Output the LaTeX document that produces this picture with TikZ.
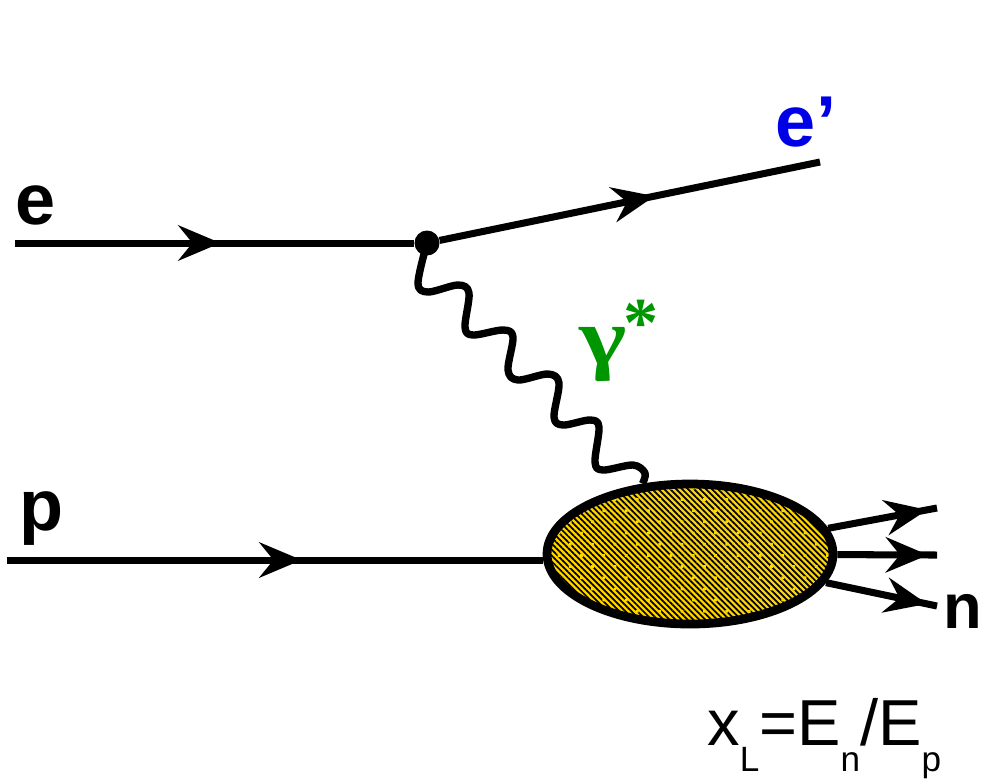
\documentclass[tikz,border=0pt]{standalone}
\usepackage{fontspec}
\setmainfont{Liberation Sans}
\newfontfamily\greekfont{Liberation Serif}
\usepackage{xcolor}
\usetikzlibrary{shapes.geometric, arrows.meta, positioning, patterns.meta, decorations.markings}
\definecolor{blobgold}{RGB}{255,214,0}
\definecolor{photongreen}{RGB}{0,150,0}
\definecolor{eblue}{RGB}{0,0,230}
\tikzset{
  fermion/.style={line width=4pt, postaction={decorate}, decoration={markings, mark=at position #1 with {\arrow{>}}}},
  photon/.style={line width=4.2pt, line join=round},
  vertex/.style={circle, fill=black, inner sep=0pt, minimum size=0.5cm},
  blob/.style={ellipse, draw, line width=5pt, inner sep=0pt, minimum width=5.72cm, minimum height=2.8cm,
    preaction={fill=blobgold},
    preaction={pattern={Lines[angle=-45, distance=2.4pt, line width=1pt]}, pattern color=black},
    pattern={Dots[angle=45, distance=9pt, radius=1.1pt]}, pattern color=blobgold},
  partlabel/.style={font=\fontsize{41}{41}\selectfont\bfseries, inner sep=0pt},
}
\begin{document}
\begin{tikzpicture}[x=0.02cm, y=-0.02cm, >={Stealth[length=24pt, width=20pt, inset=8pt]}]
  \useasboundingbox (0,0) rectangle (982,779);
  % vertices
  \node[vertex] (vtx) at (427,243) {};
  \node[blob] (blb) at (690,554) {};
  % free line ends
  \coordinate (ein) at (15,243);
  \coordinate (eout) at (820,162);
  \coordinate (pin) at (7,560);
  \coordinate (pout) at (pin -| blb.west);
  \coordinate (out1) at (937,508);
  \coordinate (out2) at (937,555);
  \coordinate (out3) at (937,606);

  \path[draw]
    (ein) edge[fermion=0.515] (vtx)
    (vtx) edge[fermion=0.565] (eout)
    (pin) edge[fermion=0.55] (pout)
    (blb) edge[fermion=0.91] (out1)
    (blb) edge[fermion=0.91] (out2)
    (blb) edge[fermion=0.91] (out3);

  % photon
  \draw[photon] plot[smooth, tension=0.55] coordinates {(vtx.center) (418,283) (428,292) (458,285) (469,293)
    (465,327) (473,335) (503,330) (513,337) (508,370) (518,380) (548,374) (559,383)
    (554,417) (563,425) (590,420) (599,427) (595,462) (603,470) (633,465) (645,473) (blb.124)};

  % labels
  \node[partlabel] (elabel) at (36,205) {e};
  \node[partlabel, text=eblue] (eplabel) at (806,122) {e’};
  \node[partlabel] (plabel) at (42,519) {p};
  \node[partlabel, anchor=east, font=\fontsize{36}{36}\selectfont\bfseries] (nlabel) at (982,611) {n};
  \node[inner sep=0pt, text=photongreen, font=\fontsize{46}{46}\selectfont\greekfont\bfseries] (gamma) at (619,341) {\scalebox{1.25}[1]{γ}\kern-2pt\raisebox{10pt}{\fontsize{40}{40}\selectfont *}};
  \node[inner sep=0pt, anchor=base west, font=\fontsize{37}{37}\selectfont] (xl) at (707,745)
    {x\raisebox{-15pt}{\fontsize{20}{20}\selectfont L}=E\raisebox{-15pt}{\fontsize{20}{20}\selectfont n}/E\raisebox{-15pt}{\fontsize{20}{20}\selectfont p}};
\end{tikzpicture}
\end{document}
